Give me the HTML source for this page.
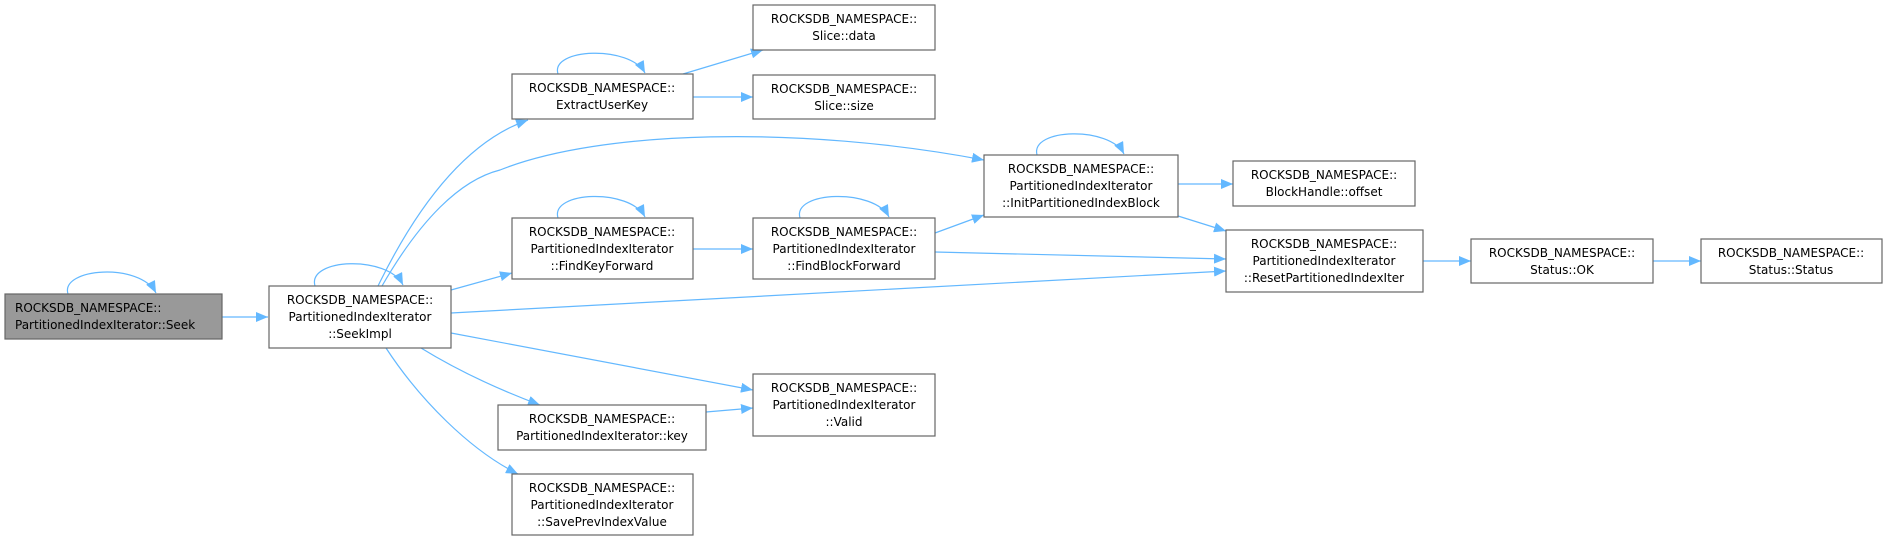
<!DOCTYPE html>
<html><head><meta charset="utf-8"><style>
html,body{margin:0;padding:0;background:#fff;}
svg{display:block;}
text{font-family:"DejaVu Sans","Liberation Sans",sans-serif;font-size:12px;fill:#000;}
.b{fill:#fff;stroke:#666;stroke-width:1.2;}
.e{fill:none;stroke:#63b8ff;stroke-width:1.2;}
</style></head><body>
<svg width="1884" height="541" viewBox="0 0 1884 541" xmlns="http://www.w3.org/2000/svg">
<defs><marker id="a" viewBox="0 0 12 10" refX="12" refY="5" markerWidth="12" markerHeight="10" markerUnits="userSpaceOnUse" orient="auto"><path d="M0,0 L12,5 L0,10 z" fill="#63b8ff"/></marker></defs>

<!-- edges -->
<g class="e" marker-end="url(#a)">
<path class="e" marker-end="url(#a)" d="M68,294 C60,268 140,262 156,293"/>
<path class="e" marker-end="url(#a)" d="M222,317 L268,317"/>
<path class="e" marker-end="url(#a)" d="M315,286 C307,258 388,255 403,285"/>
<path class="e" marker-end="url(#a)" d="M378,286 C420,200 470,140 528,120"/>
<path class="e" marker-end="url(#a)" d="M382,286 C420,220 460,180 500,170 C600,130 800,125 984,160"/>
<path class="e" marker-end="url(#a)" d="M451,290 L512,273"/>
<path class="e" marker-end="url(#a)" d="M451,313 L1226,271"/>
<path class="e" marker-end="url(#a)" d="M451,333 L753,390"/>
<path class="e" marker-end="url(#a)" d="M421,348 C460,372 500,390 540,405"/>
<path class="e" marker-end="url(#a)" d="M386,348 C420,400 470,450 518,474"/>
<path class="e" marker-end="url(#a)" d="M558,74 C550,48 630,45 645,73"/>
<path class="e" marker-end="url(#a)" d="M683,74 L763,50"/>
<path class="e" marker-end="url(#a)" d="M693,97 L753,97"/>
<path class="e" marker-end="url(#a)" d="M558,218 C550,191 630,188 645,217"/>
<path class="e" marker-end="url(#a)" d="M693,249 L753,249"/>
<path class="e" marker-end="url(#a)" d="M800,218 C792,191 874,188 889,217"/>
<path class="e" marker-end="url(#a)" d="M935,233 L984,215"/>
<path class="e" marker-end="url(#a)" d="M935,252 L1226,259"/>
<path class="e" marker-end="url(#a)" d="M1037,155 C1030,128 1110,126 1124,154"/>
<path class="e" marker-end="url(#a)" d="M1178,184 L1233,184"/>
<path class="e" marker-end="url(#a)" d="M1178,216 L1226,231"/>
<path class="e" marker-end="url(#a)" d="M1423,261 L1471,261"/>
<path class="e" marker-end="url(#a)" d="M1653,261 L1701,261"/>
<path class="e" marker-end="url(#a)" d="M706,412 L753,408"/>
</g>

<!-- nodes -->
<rect x="5" y="294" width="217" height="45" fill="#999" stroke="#666" stroke-width="1.2"/>
<text x="15" y="312">ROCKSDB_NAMESPACE::</text>
<text x="15" y="329">PartitionedIndexIterator::Seek</text>

<rect class="b" x="269" y="286" width="182" height="62"/>
<text x="360" y="304" text-anchor="middle">ROCKSDB_NAMESPACE::</text>
<text x="360" y="321" text-anchor="middle">PartitionedIndexIterator</text>
<text x="360" y="338" text-anchor="middle">::SeekImpl</text>

<rect class="b" x="512" y="74" width="181" height="45"/>
<text x="602" y="92" text-anchor="middle">ROCKSDB_NAMESPACE::</text>
<text x="602" y="109" text-anchor="middle">ExtractUserKey</text>

<rect class="b" x="512" y="218" width="181" height="61"/>
<text x="602" y="236" text-anchor="middle">ROCKSDB_NAMESPACE::</text>
<text x="602" y="253" text-anchor="middle">PartitionedIndexIterator</text>
<text x="602" y="270" text-anchor="middle">::FindKeyForward</text>

<rect class="b" x="498" y="405" width="208" height="45"/>
<text x="602" y="423" text-anchor="middle">ROCKSDB_NAMESPACE::</text>
<text x="602" y="440" text-anchor="middle">PartitionedIndexIterator::key</text>

<rect class="b" x="512" y="474" width="181" height="61"/>
<text x="602" y="492" text-anchor="middle">ROCKSDB_NAMESPACE::</text>
<text x="602" y="509" text-anchor="middle">PartitionedIndexIterator</text>
<text x="602" y="526" text-anchor="middle">::SavePrevIndexValue</text>

<rect class="b" x="753" y="5" width="182" height="45"/>
<text x="844" y="23" text-anchor="middle">ROCKSDB_NAMESPACE::</text>
<text x="844" y="40" text-anchor="middle">Slice::data</text>

<rect class="b" x="753" y="75" width="182" height="44"/>
<text x="844" y="93" text-anchor="middle">ROCKSDB_NAMESPACE::</text>
<text x="844" y="110" text-anchor="middle">Slice::size</text>

<rect class="b" x="753" y="218" width="182" height="61"/>
<text x="844" y="236" text-anchor="middle">ROCKSDB_NAMESPACE::</text>
<text x="844" y="253" text-anchor="middle">PartitionedIndexIterator</text>
<text x="844" y="270" text-anchor="middle">::FindBlockForward</text>

<rect class="b" x="753" y="374" width="182" height="62"/>
<text x="844" y="392" text-anchor="middle">ROCKSDB_NAMESPACE::</text>
<text x="844" y="409" text-anchor="middle">PartitionedIndexIterator</text>
<text x="844" y="426" text-anchor="middle">::Valid</text>

<rect class="b" x="984" y="155" width="194" height="62"/>
<text x="1081" y="173" text-anchor="middle">ROCKSDB_NAMESPACE::</text>
<text x="1081" y="190" text-anchor="middle">PartitionedIndexIterator</text>
<text x="1081" y="207" text-anchor="middle">::InitPartitionedIndexBlock</text>

<rect class="b" x="1233" y="161" width="182" height="45"/>
<text x="1324" y="179" text-anchor="middle">ROCKSDB_NAMESPACE::</text>
<text x="1324" y="196" text-anchor="middle">BlockHandle::offset</text>

<rect class="b" x="1226" y="230" width="197" height="62"/>
<text x="1324" y="248" text-anchor="middle">ROCKSDB_NAMESPACE::</text>
<text x="1324" y="265" text-anchor="middle">PartitionedIndexIterator</text>
<text x="1324" y="282" text-anchor="middle">::ResetPartitionedIndexIter</text>

<rect class="b" x="1471" y="239" width="182" height="44"/>
<text x="1562" y="257" text-anchor="middle">ROCKSDB_NAMESPACE::</text>
<text x="1562" y="274" text-anchor="middle">Status::OK</text>

<rect class="b" x="1701" y="239" width="181" height="44"/>
<text x="1791" y="257" text-anchor="middle">ROCKSDB_NAMESPACE::</text>
<text x="1791" y="274" text-anchor="middle">Status::Status</text>
</svg>
</body></html>
